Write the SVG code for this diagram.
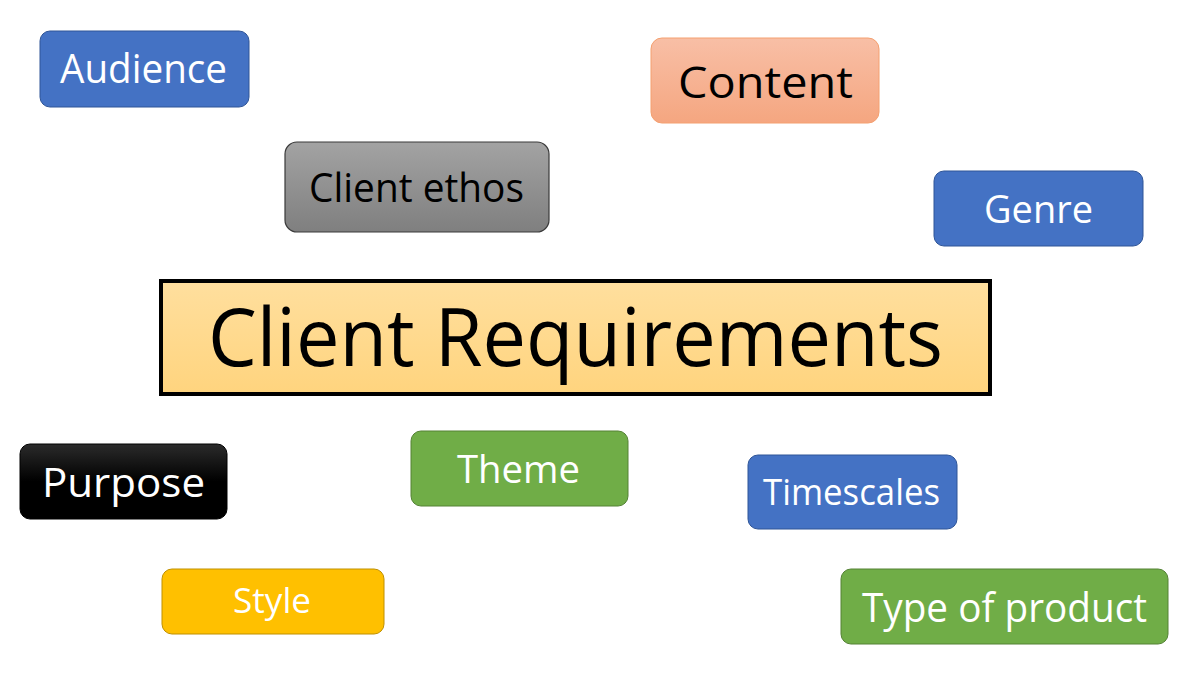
<svg xmlns="http://www.w3.org/2000/svg" width="1200" height="675" viewBox="0 0 1200 675">
<defs>
<linearGradient id="gContent" x1="0" y1="0" x2="0" y2="1"><stop offset="0" stop-color="#f8bfa6"/><stop offset="1" stop-color="#f5a680"/></linearGradient>
<linearGradient id="gEthos" x1="0" y1="0" x2="0" y2="1"><stop offset="0" stop-color="#a3a3a3"/><stop offset="1" stop-color="#7f7f7f"/></linearGradient>
<linearGradient id="gMain" x1="0" y1="0" x2="0" y2="1"><stop offset="0" stop-color="#ffdf9e"/><stop offset="1" stop-color="#ffd47e"/></linearGradient>
<linearGradient id="gPurpose" x1="0" y1="0" x2="0" y2="1"><stop offset="0" stop-color="#2b2b2b"/><stop offset="0.5" stop-color="#000000"/><stop offset="1" stop-color="#000000"/></linearGradient>
</defs>
<style>
text{font-family:"Open Sans","Noto Sans",sans-serif;text-anchor:start;}
.w{fill:#ffffff;}
.k{fill:#000000;}
.blue{fill:#4472c4;stroke:#2f5597;stroke-width:1;}
.green{fill:#70ad47;stroke:#548235;stroke-width:1;}
.yellow{fill:#ffc000;stroke:#bf9000;stroke-width:1;}
</style>
<rect width="1200" height="675" fill="#ffffff"/>
<g id="connectors"></g>
<g id="audience"><rect class="blue" x="40" y="31" width="209" height="76" rx="10"/><text class="w" x="60" y="83" font-size="40" textLength="167" lengthAdjust="spacingAndGlyphs">Audience</text></g>
<g id="content"><rect x="651" y="38" width="228" height="85" rx="11" fill="url(#gContent)" stroke="#f4a070" stroke-width="1"/><text class="k" x="678" y="98" font-size="44" textLength="175" lengthAdjust="spacingAndGlyphs">Content</text></g>
<g id="client-ethos"><rect x="285" y="142" width="264" height="90" rx="12" fill="url(#gEthos)" stroke="#3a3a3a" stroke-width="1.2"/><text class="k" x="309" y="202" font-size="41" textLength="215" lengthAdjust="spacingAndGlyphs">Client ethos</text></g>
<g id="genre"><rect class="blue" x="934" y="171" width="209" height="75" rx="10"/><text class="w" x="984" y="223" font-size="39" textLength="109" lengthAdjust="spacingAndGlyphs">Genre</text></g>
<g id="client-requirements"><rect x="161" y="281" width="829" height="113" fill="url(#gMain)" stroke="#000000" stroke-width="4"/><text class="k" x="208" y="366" font-size="80" textLength="735" lengthAdjust="spacingAndGlyphs">Client Requirements</text></g>
<g id="purpose"><rect x="20" y="444" width="207" height="75" rx="10" fill="url(#gPurpose)" stroke="#000000" stroke-width="1"/><text class="w" x="42" y="497" font-size="41" textLength="163" lengthAdjust="spacingAndGlyphs">Purpose</text></g>
<g id="theme"><rect class="green" x="411" y="431" width="217" height="75" rx="10"/><text class="w" x="457" y="483" font-size="39" textLength="123" lengthAdjust="spacingAndGlyphs">Theme</text></g>
<g id="timescales"><rect class="blue" x="748" y="455" width="209" height="74" rx="10"/><text class="w" x="763" y="505" font-size="37" textLength="177" lengthAdjust="spacingAndGlyphs">Timescales</text></g>
<g id="style"><rect class="yellow" x="162" y="569" width="222" height="65" rx="10"/><text class="w" x="233" y="613" font-size="35" textLength="78" lengthAdjust="spacingAndGlyphs">Style</text></g>
<g id="type-of-product"><rect class="green" x="841" y="569" width="327" height="75" rx="10"/><text class="w" x="862" y="622" font-size="41" textLength="285" lengthAdjust="spacingAndGlyphs">Type of product</text></g>
</svg>
